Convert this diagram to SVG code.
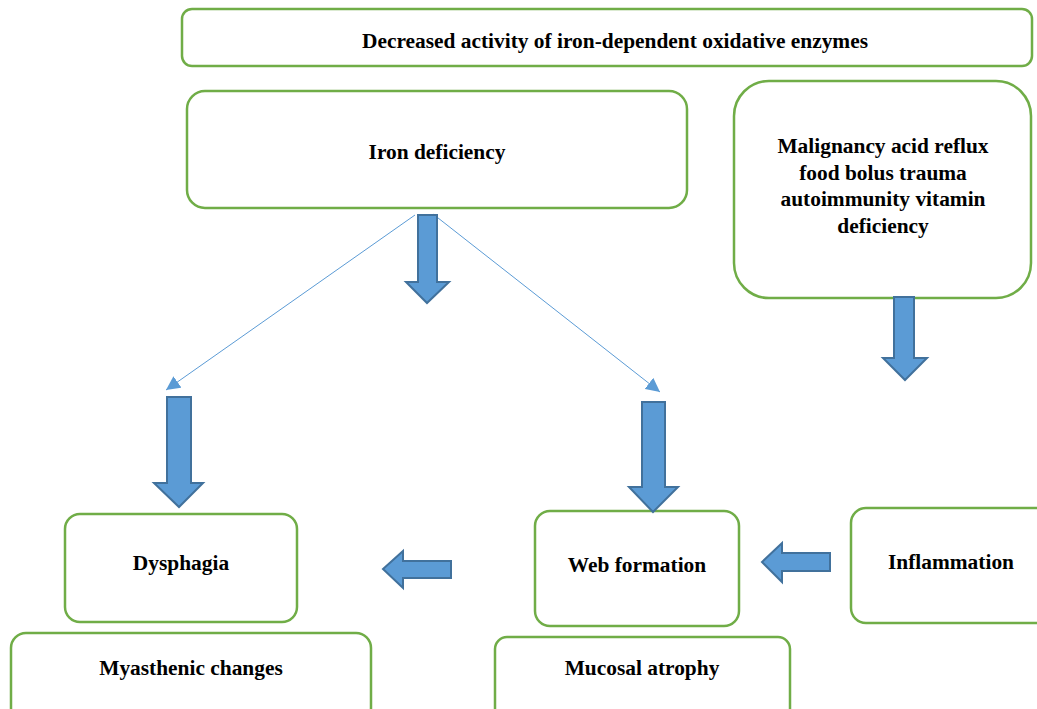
<svg xmlns="http://www.w3.org/2000/svg" width="1037" height="709" viewBox="0 0 1037 709">
<style>
.box{fill:#fff;stroke:#70AD47;stroke-width:2.5}
.t{font-family:"Liberation Serif","Times New Roman",serif;font-weight:bold;font-size:21.4px;fill:#000;text-anchor:middle}
.blk{fill:#5B9BD5;stroke:#41719C;stroke-width:2;stroke-linejoin:miter}
.ln{stroke:#5B9BD5;stroke-width:1;fill:none}
</style>
<defs>
<marker id="ah" viewBox="0 0 10 10" refX="10" refY="5" markerWidth="14" markerHeight="14" markerUnits="userSpaceOnUse" orient="auto">
<path d="M0,0 L10,5 L0,10 z" fill="#5B9BD5"/>
</marker>
</defs>
<rect width="1037" height="709" fill="#fff"/>
<g id="n-enzymes"><rect class="box" x="182" y="9" width="850" height="57" rx="10"/><text class="t" x="615" y="48">Decreased activity of iron-dependent oxidative enzymes</text></g>
<g id="n-iron"><rect class="box" x="187" y="91" width="500" height="117" rx="18"/><text class="t" x="437" y="159">Iron deficiency</text></g>
<g id="n-causes"><rect class="box" x="734" y="81" width="297" height="217" rx="35"/>
<text class="t" x="883" y="153">Malignancy acid reflux</text>
<text class="t" x="883" y="180">food bolus trauma</text>
<text class="t" x="883" y="206">autoimmunity vitamin</text>
<text class="t" x="883" y="233">deficiency</text></g>
<g id="n-dysphagia"><rect class="box" x="65" y="514" width="232" height="108" rx="15"/><text class="t" x="181" y="570">Dysphagia</text></g>
<g id="n-web"><rect class="box" x="535" y="511" width="204" height="115" rx="15"/><text class="t" x="637" y="572">Web formation</text></g>
<g id="n-inflammation"><rect class="box" x="851" y="508" width="200" height="115" rx="15"/><text class="t" x="951" y="569">Inflammation</text></g>
<g id="n-myasthenic"><rect class="box" x="11" y="633" width="360" height="90" rx="15"/><text class="t" x="191" y="675">Myasthenic changes</text></g>
<g id="n-mucosal"><rect class="box" x="495" y="637" width="295" height="86" rx="12"/><text class="t" x="642" y="675">Mucosal atrophy</text></g>
<g id="connectors">
<line class="ln" x1="415" y1="215" x2="166" y2="390" marker-end="url(#ah)"/>
<line class="ln" x1="433" y1="214" x2="660" y2="392" marker-end="url(#ah)"/>
<path class="blk" d="M418,215 H437 V282 H449 L427,303 L406,282 H418 Z"/>
<path class="blk" d="M167,397 H191 V483 H203 L179,507 L154,483 H167 Z"/>
<path class="blk" d="M642,402 H665 V487 H678 L653,512 L629,487 H642 Z"/>
<path class="blk" d="M894,297 H914 V358 H927 L905,380 L883,358 H894 Z"/>
<path class="blk" d="M451,561 V578 H403 V588 L383,569 L403,551 V561 Z"/>
<path class="blk" d="M830,553 V571 H782 V582 L762,562 L782,543 V553 Z"/>
</g>
</svg>
